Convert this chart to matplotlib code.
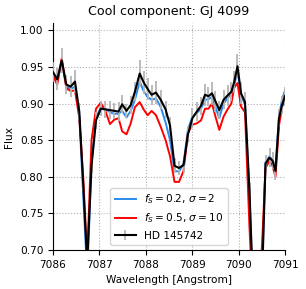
import matplotlib
matplotlib.use("Agg")
import matplotlib.pyplot as plt
from matplotlib.lines import Line2D

plt.rcParams['font.family'] = ['DejaVu Sans']
plt.rcParams['font.size'] = 7.6
plt.rcParams['mathtext.fontset'] = 'dejavusans'

wavelength = [7086.000, 7086.091, 7086.188, 7086.287, 7086.381, 7086.474, 7086.567, 7086.651,
              7086.737, 7086.830, 7086.927, 7087.030, 7087.129, 7087.228, 7087.321, 7087.412,
              7087.491, 7087.584, 7087.675, 7087.765, 7087.869, 7087.953, 7088.039, 7088.125,
              7088.220, 7088.323, 7088.427, 7088.522, 7088.619, 7088.716, 7088.813, 7088.909,
              7089.004, 7089.099, 7089.190, 7089.276, 7089.351, 7089.427, 7089.502, 7089.584,
              7089.675, 7089.761, 7089.843, 7089.907, 7089.976, 7090.052, 7090.138, 7090.235,
              7090.332, 7090.429, 7090.515, 7090.580, 7090.666, 7090.731, 7090.795, 7090.871,
              7090.935, 7091.000]

flux_hd = [0.943, 0.933, 0.959, 0.926, 0.923, 0.930, 0.889, 0.790,
           0.682, 0.815, 0.877, 0.893, 0.892, 0.891, 0.890, 0.889,
           0.899, 0.890, 0.898, 0.916, 0.941, 0.929, 0.920, 0.912,
           0.915, 0.905, 0.892, 0.870, 0.815, 0.812, 0.816, 0.858,
           0.880, 0.889, 0.897, 0.912, 0.910, 0.914, 0.903, 0.891,
           0.905, 0.911, 0.916, 0.930, 0.951, 0.914, 0.902, 0.780,
           0.610, 0.600, 0.680, 0.818, 0.826, 0.822, 0.808, 0.880,
           0.898, 0.910]

err_hd = [0.014, 0.015, 0.017, 0.013, 0.014, 0.016, 0.012, 0.010,
          0.010, 0.010, 0.012, 0.010, 0.012, 0.012, 0.011, 0.013,
          0.012, 0.010, 0.012, 0.013, 0.018, 0.016, 0.015, 0.014,
          0.016, 0.013, 0.012, 0.012, 0.010, 0.010, 0.011, 0.012,
          0.014, 0.013, 0.012, 0.015, 0.013, 0.016, 0.014, 0.012,
          0.013, 0.014, 0.013, 0.015, 0.016, 0.015, 0.014, 0.012,
          0.010, 0.010, 0.010, 0.012, 0.013, 0.012, 0.013, 0.012,
          0.012, 0.013]

flux_model1 = [0.940, 0.929, 0.957, 0.923, 0.920, 0.923, 0.884, 0.775,
               0.665, 0.818, 0.880, 0.895, 0.893, 0.888, 0.886, 0.886,
               0.890, 0.881, 0.890, 0.905, 0.930, 0.917, 0.909, 0.905,
               0.907, 0.895, 0.874, 0.850, 0.808, 0.807, 0.818, 0.865,
               0.882, 0.887, 0.893, 0.905, 0.906, 0.909, 0.895, 0.880,
               0.900, 0.907, 0.914, 0.925, 0.945, 0.912, 0.898, 0.775,
               0.600, 0.590, 0.690, 0.820, 0.828, 0.822, 0.812, 0.883,
               0.905, 0.918]

flux_model2 = [0.938, 0.926, 0.962, 0.921, 0.917, 0.918, 0.880, 0.800,
               0.690, 0.850, 0.893, 0.901, 0.890, 0.872, 0.878, 0.880,
               0.862, 0.858, 0.873, 0.895, 0.902, 0.892, 0.884, 0.890,
               0.884, 0.868, 0.850, 0.828, 0.793, 0.793, 0.808, 0.860,
               0.871, 0.873, 0.877, 0.893, 0.893, 0.900, 0.882, 0.864,
               0.882, 0.892, 0.900, 0.922, 0.928, 0.896, 0.888, 0.730,
               0.600, 0.620, 0.720, 0.812, 0.822, 0.815, 0.800, 0.870,
               0.895, 0.906]

label1 = r'$f_S = 0.2$, $\sigma = 2$'
label2 = r'$f_S = 0.5$, $\sigma = 10$'
label_hd = 'HD 145742'

fig = plt.figure(figsize=(3.06, 2.89), dpi=100)
ax = fig.add_axes([53/306, 1 - 250/289, 232/306, 227/289])

ax.plot(wavelength, flux_model1, color='#2b8cee', lw=1.4, zorder=3)
ax.plot(wavelength, flux_model2, color='#ff0000', lw=1.4, zorder=4)
ax.errorbar(wavelength, flux_hd, yerr=err_hd, color='black', lw=1.5,
            ecolor='#b5b5b5', elinewidth=1.3, capsize=0, zorder=5)

ax.set_xlim(7086, 7091)
ax.set_ylim(0.70, 1.01)
ax.set_xticks([7086, 7087, 7088, 7089, 7090, 7091])
ax.set_yticks([0.70, 0.75, 0.80, 0.85, 0.90, 0.95, 1.00])
ax.ticklabel_format(useOffset=False, axis='x')
ax.grid(True, linestyle=':', color='#b0b0b0', linewidth=0.8)
ax.set_axisbelow(True)
for s in ['top', 'right']:
    ax.spines[s].set_visible(False)
ax.tick_params(direction='out', length=3.5, width=0.8)

ax.set_xlabel('Wavelength [Angstrom]')
ax.set_ylabel('Flux')
ax.set_title('Cool component: GJ 4099', fontsize=9.1)

h1 = Line2D([], [], color='#2b8cee', lw=1.4)
h2 = Line2D([], [], color='#ff0000', lw=1.4)
h3 = ax.errorbar([], [], yerr=[], color='black', lw=1.5, ecolor='#b5b5b5', elinewidth=1.3)
ax.legend([h1, h2, h3], [label1, label2, label_hd], loc='lower center')

fig.savefig('out.png', dpi=100)
